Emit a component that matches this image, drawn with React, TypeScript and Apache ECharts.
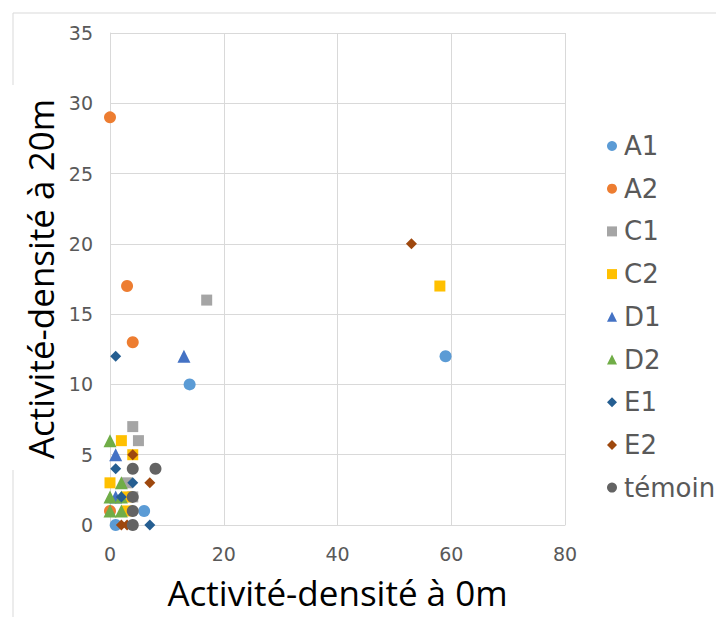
import React, { useEffect, useRef } from "react";
import * as echarts from "echarts";

const seriesNames = ["A1", "A2", "C1", "C2", "D1", "D2", "E1", "E2", "témoin"];
const A1 = [[14, 10], [59, 12], [6, 1], [1, 0]];
const A2 = [[0, 29], [3, 17], [4, 13], [0, 1]];
const C1 = [[17, 16], [4, 7], [5, 6], [3, 3], [4, 2]];
const C2 = [[58, 17], [2, 6], [4, 5], [0, 3], [3, 2], [3, 1]];
const D1 = [[13, 12], [1, 5], [1, 2]];
const D2 = [[0, 6], [2, 3], [0, 2], [2, 2], [0, 1], [2, 1]];
const E1 = [[1, 12], [1, 4], [4, 3], [2, 2], [7, 0]];
const E2 = [[53, 20], [4, 5], [7, 3], [2, 0], [3, 0]];
const TEMOIN = [[4, 4], [8, 4], [4, 2], [4, 1], [4, 0]];
const seriesData = [A1, A2, C1, C2, D1, D2, E1, E2, TEMOIN];

const colors = ["#5B9BD5", "#ED7D31", "#A5A5A5", "#FFC000", "#4472C4", "#70AD47", "#255E91", "#9E480E", "#636363"];
const symbols = ["circle", "circle", "rect", "rect", "triangle", "triangle", "diamond", "diamond", "circle"];
const sizes = [12, 12, 11, 11, 13, 13, 11, 11, 12];

export default function App() {
  const ref = useRef<HTMLDivElement>(null);
  useEffect(() => {
    if (!ref.current) return;
    const chart = echarts.init(ref.current, null, { renderer: "svg" });
    const grid = "#D9D9D9";
    chart.setOption({
      animation: false,
      backgroundColor: "#fff",
      grid: { left: 110, right: 151, top: 33, bottom: 92 },
      xAxis: {
        type: "value",
        min: 0,
        max: 80,
        interval: 20,
        name: "Activité-densité à 0m",
        nameLocation: "middle",
        nameGap: 50,
        nameTextStyle: { fontFamily: "Open Sans", fontSize: 35, color: "#000" },
        axisLine: { show: true, lineStyle: { color: grid } },
        axisTick: { show: false },
        axisLabel: { fontFamily: "DejaVu Sans", fontSize: 19, color: "#595959", margin: 19 },
        splitLine: { show: true, lineStyle: { color: grid } },
      },
      yAxis: {
        type: "value",
        min: 0,
        max: 35,
        interval: 5,
        name: "Activité-densité à 20m",
        nameLocation: "middle",
        nameGap: 45,
        nameTextStyle: { fontFamily: "Open Sans", fontSize: 35, color: "#000" },
        axisLine: { show: true, lineStyle: { color: grid } },
        axisTick: { show: false },
        axisLabel: { fontFamily: "DejaVu Sans", fontSize: 19, color: "#595959", margin: 17 },
        splitLine: { show: true, lineStyle: { color: grid } },
      },
      legend: {
        orient: "vertical",
        left: 602,
        top: 128,
        itemWidth: 10,
        itemHeight: 10,
        itemGap: 16.7,
        textStyle: { fontFamily: "DejaVu Sans", fontSize: 26, color: "#595959", padding: [0, 0, 0, 2] },
        data: seriesNames.map((n, i) => ({ name: n, icon: symbols[i] })),
      },
      graphic: [
        { type: "line", shape: { x1: 13, y1: 13, x2: 716, y2: 13 }, style: { stroke: grid, lineWidth: 1 } },
        { type: "line", shape: { x1: 13, y1: 13, x2: 13, y2: 85 }, style: { stroke: grid, lineWidth: 1 } },
        { type: "line", shape: { x1: 13, y1: 470, x2: 13, y2: 617 }, style: { stroke: grid, lineWidth: 1 } },
      ],
      series: seriesNames.map((n, i) => ({
        name: n,
        type: "scatter",
        data: seriesData[i],
        symbol: symbols[i],
        symbolSize: sizes[i],
        itemStyle: { color: colors[i], opacity: 1 },
        z: 2 + i,
      })),
    });
    return () => chart.dispose();
  }, []);
  return <div ref={ref} style={{ position: "fixed", left: 0, top: 0, width: 716, height: 617 }} />;
}
